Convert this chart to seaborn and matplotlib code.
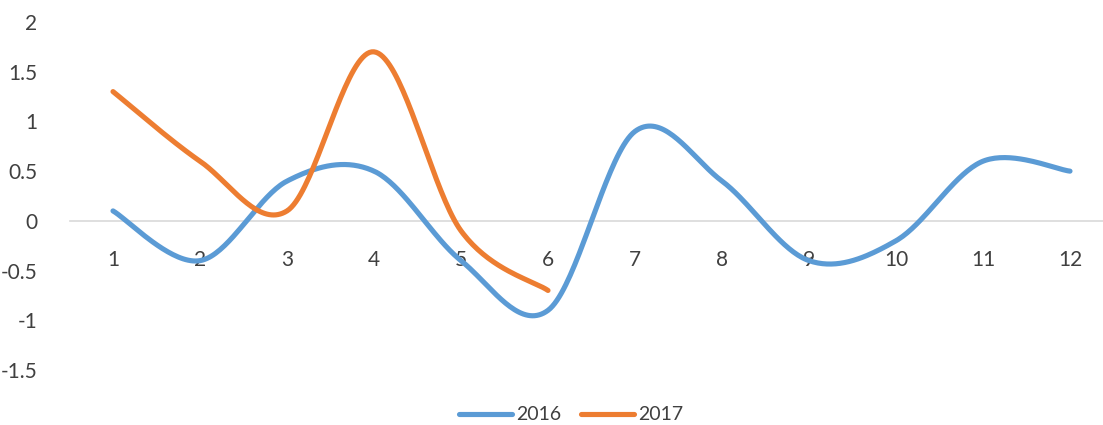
import matplotlib
matplotlib.use("Agg")
import matplotlib.pyplot as plt
import numpy as np
import pandas as pd
import seaborn as sns

months = list(range(1, 13))
values_2016 = [0.1, -0.4, 0.4, 0.5, -0.4, -0.9, 0.9, 0.4, -0.4, -0.2, 0.6, 0.5]
months_2017 = [1, 2, 3, 4, 5, 6]
values_2017 = [1.3, 0.6, 0.1, 1.7, -0.1, -0.7]
y_ticks = [2, 1.5, 1, 0.5, 0, -0.5, -1, -1.5]

BLUE = "#5B9BD5"
ORANGE = "#ED7D31"


def smooth(xs, ys, steps=40):
    # Excel-like smoothed line: cubic Bezier segments through the points
    p = np.column_stack([xs, ys]).astype(float)
    p = np.vstack([p[0], p, p[-1]])
    out = []
    for i in range(1, len(p) - 2):
        p0, p1, p2, p3 = p[i - 1], p[i], p[i + 1], p[i + 2]
        c1 = p1 + (p2 - p0) / 6
        c2 = p2 - (p3 - p1) / 6
        t = np.linspace(0, 1, steps)[:, None]
        seg = ((1 - t) ** 3) * p1 + 3 * ((1 - t) ** 2) * t * c1 + 3 * (1 - t) * t ** 2 * c2 + t ** 3 * p2
        out.append(seg if i == 1 else seg[1:])
    return np.vstack(out)


sns.set_theme(style="white")
plt.rcParams["font.family"] = ["Lato", "DejaVu Sans"]
plt.rcParams["axes.unicode_minus"] = False

fig = plt.figure(figsize=(11.03, 4.25), dpi=100)
ax = fig.add_axes([69.5 / 1103, 55 / 425, 1044 / 1103, 348 / 425])

frames = []
for label, xs, ys in [("2016", months, values_2016), ("2017", months_2017, values_2017)]:
    curve = smooth(xs, ys)
    frames.append(pd.DataFrame({"x": curve[:, 0], "y": curve[:, 1], "series": label}))
df = pd.concat(frames, ignore_index=True)

sns.lineplot(data=df, x="x", y="y", hue="series", palette=[BLUE, ORANGE], sort=False,
             estimator=None, units="series", linewidth=3.7, ax=ax, legend=True)
for line in ax.get_lines():
    line.set_solid_capstyle("round")

ax.set_xlim(0.5, 12.5)
ax.set_ylim(-1.5, 2)
ax.set_yticks(y_ticks)
ax.set_yticklabels([f"{v:g}" for v in y_ticks])
ax.set_xticks(months)
ax.set_xticklabels([str(m) for m in months])
ax.tick_params(axis="both", length=0, labelsize=15, colors="#404040")
ax.tick_params(axis="y", pad=23)
ax.tick_params(axis="x", pad=21)
ax.set_xlabel("")
ax.set_ylabel("")

for side in ["top", "right", "left"]:
    ax.spines[side].set_visible(False)
ax.spines["bottom"].set_position(("data", 0))
ax.spines["bottom"].set_color("#D9D9D9")
ax.spines["bottom"].set_linewidth(1.2)
ax.spines["bottom"].set_zorder(0)

handles, labels = ax.get_legend_handles_labels()
leg = ax.legend(handles, labels, loc="center", bbox_to_anchor=(571 / 1103, 10 / 425),
                bbox_transform=fig.transFigure, ncol=2, frameon=False, fontsize=14,
                handlelength=2.75, handletextpad=0.2, columnspacing=1.0,
                borderaxespad=0, borderpad=0)
for h in leg.get_lines():
    h.set_linewidth(3.7)
    h.set_solid_capstyle("round")
for t in leg.get_texts():
    t.set_color("#404040")

fig.savefig("out.png", dpi=100)
